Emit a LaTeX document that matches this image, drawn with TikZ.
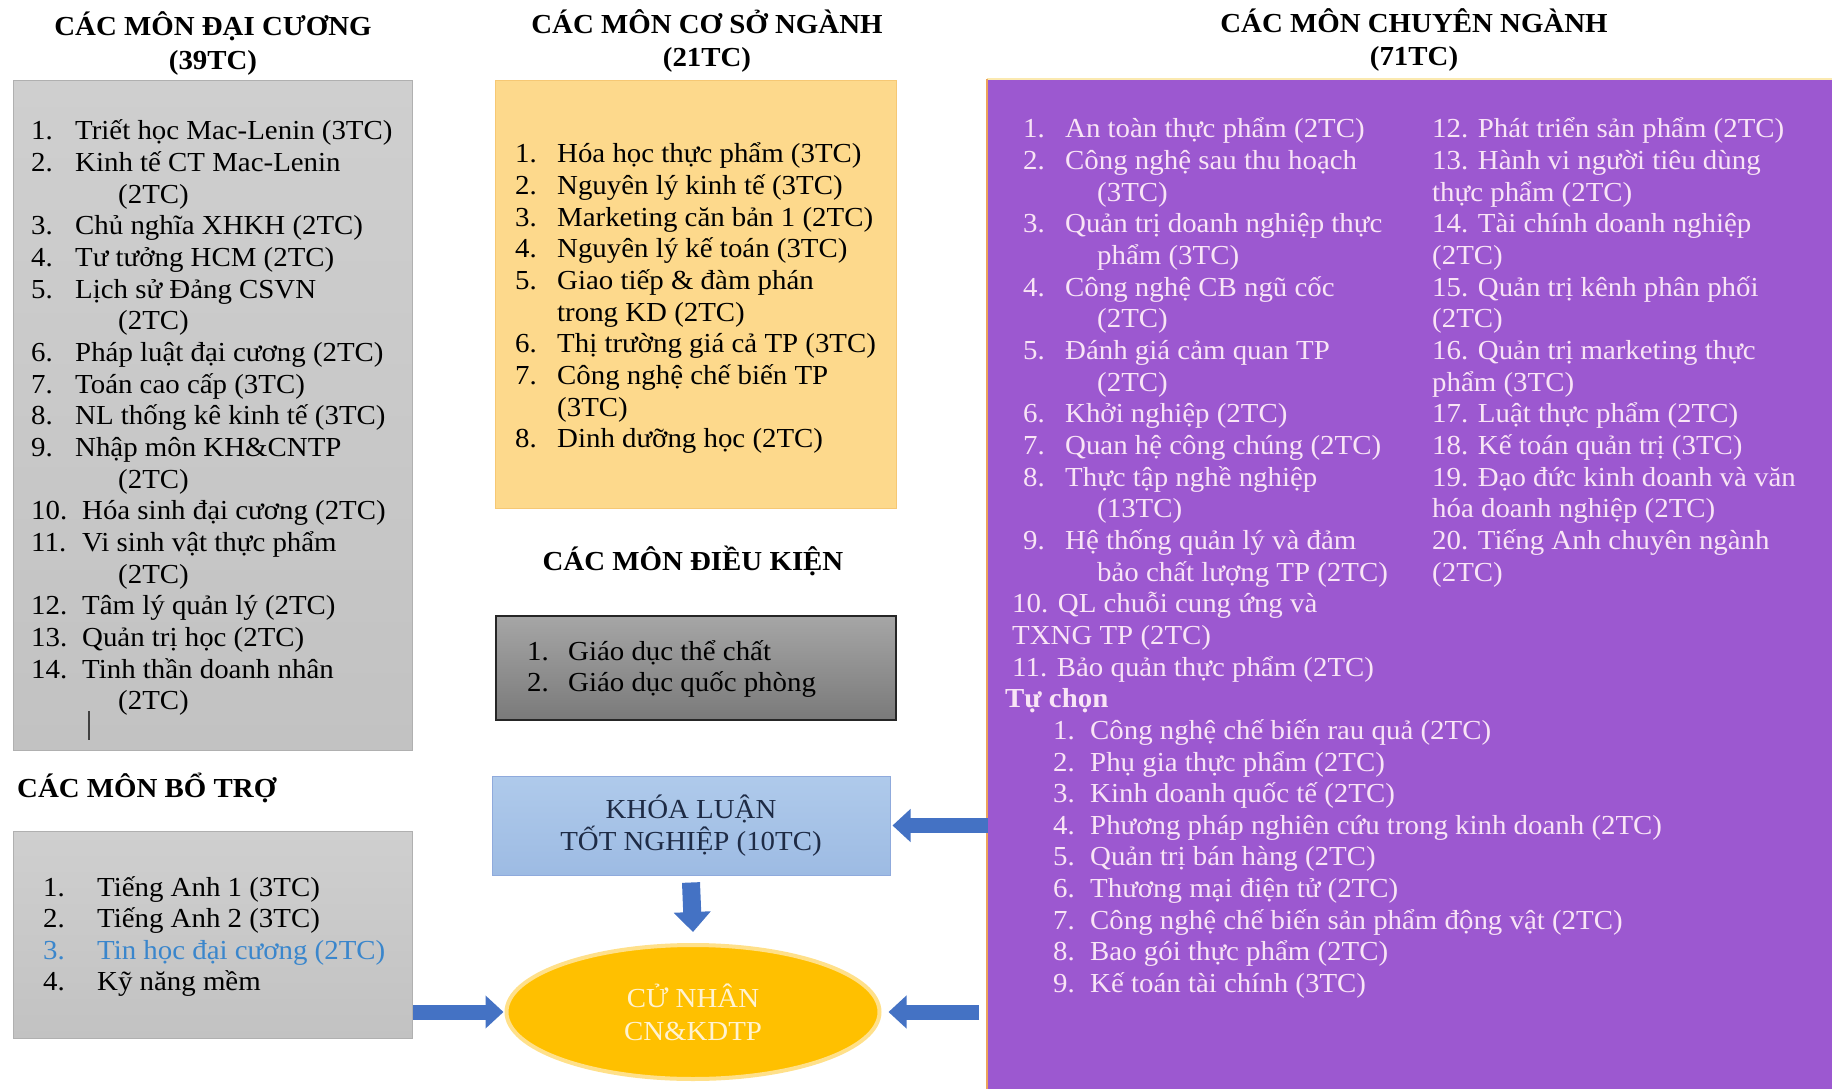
\documentclass[tikz,border=0pt]{standalone}
\usepackage{fontspec}
\setmainfont{Liberation Serif}[FakeStretch=1.05]
\usetikzlibrary{shapes.geometric,arrows.meta}
\definecolor{grayT}{HTML}{CFCFCF}
\definecolor{grayB}{HTML}{C2C2C2}
\definecolor{grayD}{HTML}{B0B0B0}
\definecolor{yelF}{HTML}{FDD98C}
\definecolor{yelD}{HTML}{F6C874}
\definecolor{dkT}{HTML}{A6A6A6}
\definecolor{dkB}{HTML}{7A7A7A}
\definecolor{bluT}{HTML}{AFCAEB}
\definecolor{bluB}{HTML}{9DBBE3}
\definecolor{bluD}{HTML}{8FAADC}
\definecolor{navy}{HTML}{1E2B45}
\definecolor{gold}{HTML}{FFC000}
\definecolor{goldE}{HTML}{FFE08A}
\definecolor{goldtxt}{HTML}{FFF3D1}
\definecolor{purp}{HTML}{9C58D0}
\definecolor{purpD}{HTML}{EDA35A}
\definecolor{purpTop}{HTML}{FBE9B0}
\definecolor{ptext}{HTML}{F9E4F6}
\definecolor{arrowblue}{HTML}{4472C4}
\definecolor{linkblue}{HTML}{3A86CC}
\newcommand\bodyfont{\fontsize{27.5}{31.65}\selectfont}
\newcommand\LS{31.65}
% numbered line: style, name, y, numx, num, textx, text
\newcommand\NL[7]{\node[#1] (#2-n) at (#4,#3) {#5}; \node[#1] (#2-t) at (#6,#3) {#7};}
% plain line: style, name, y, x, text
\newcommand\CL[5]{\node[#1] (#2) at (#4,#3) {#5};}
\begin{document}
\begin{tikzpicture}[x=1pt,y=-1pt,
  itm/.style={font=\bodyfont, anchor=base west, inner sep=0pt},
  pitm/.style={itm, text=ptext},
  ttl/.style={font=\bodyfont\bfseries, anchor=base, inner sep=0pt},
  panel/.style={rectangle, anchor=north west, inner sep=0pt},
  blockarrow/.style={draw=arrowblue, line width=15pt, -{Triangle[length=18pt,width=32pt]}},
  downarrow/.style={draw=arrowblue, line width=18pt, -{Triangle[length=20pt,width=36pt]}}]
\useasboundingbox (0,0) rectangle (1832,1089);

% ---------- panels ----------
\node[panel, top color=grayT, bottom color=grayB, draw=grayD, line width=1pt,
      minimum width=399pt, minimum height=670pt] (dc) at (13,80) {};
\node[panel, top color=grayT, bottom color=grayB, draw=grayD, line width=1pt,
      minimum width=399pt, minimum height=207pt] (bt) at (13,831) {};
\node[panel, fill=yelF, draw=yelD, line width=1pt,
      minimum width=401pt, minimum height=428pt] (csn) at (495,80) {};
\node[panel, top color=dkT, bottom color=dkB, draw=black!85, line width=1.5pt,
      minimum width=400pt, minimum height=104pt] (dk) at (495,615) {};
\node[rectangle, top color=bluT, bottom color=bluB, draw=bluD, line width=1pt,
      minimum width=398pt, minimum height=99pt, align=center, text=navy,
      font=\fontsize{27.5}{32}\selectfont] (kl) at (691,825.5) {KHÓA LUẬN\\TỐT NGHIỆP (10TC)};
\node[ellipse, fill=gold, draw=goldE, line width=4pt, inner sep=0pt,
      minimum width=373pt, minimum height=134pt, align=center, text=goldtxt,
      font=\fontsize{27.5}{33}\selectfont] (cn) at (693,1012) {CỬ NHÂN\\CN\&KDTP};
\node[panel, fill=purp, minimum width=846pt, minimum height=1012pt] (cd) at (987,79) {};
\draw[purpTop, line width=2pt] (cd.north west) -- (cd.north east);
\draw[purpD, line width=2.5pt] (cd.north west) -- (cd.south west);

% ---------- titles ----------
\node[ttl] (dc-t1) at (213,36) {CÁC MÔN ĐẠI CƯƠNG};
\node[ttl] (dc-t2) at (213,70) {(39TC)};
\node[ttl] (csn-t1) at (707,34) {CÁC MÔN CƠ SỞ NGÀNH};
\node[ttl] (csn-t2) at (707,67) {(21TC)};
\node[ttl] (cd-t1) at (1414,33) {CÁC MÔN CHUYÊN NGÀNH};
\node[ttl] (cd-t2) at (1414,66) {(71TC)};
\node[ttl] (dk-t) at (693,570) {CÁC MÔN ĐIỀU KIỆN};
\node[ttl, anchor=base west] (bt-t) at (17,797) {CÁC MÔN BỔ TRỢ};

% ---------- đại cương ----------
\NL{itm}{dc1}{140+0*\LS}{31}{1.}{75}{Triết học Mac-Lenin (3TC)}
\NL{itm}{dc2}{140+1*\LS}{31}{2.}{75}{Kinh tế CT Mac-Lenin}
\CL{itm}{dc2b}{140+2*\LS}{118}{(2TC)}
\NL{itm}{dc3}{140+3*\LS}{31}{3.}{75}{Chủ nghĩa XHKH (2TC)}
\NL{itm}{dc4}{140+4*\LS}{31}{4.}{75}{Tư tưởng HCM (2TC)}
\NL{itm}{dc5}{140+5*\LS}{31}{5.}{75}{Lịch sử Đảng CSVN}
\CL{itm}{dc5b}{140+6*\LS}{118}{(2TC)}
\NL{itm}{dc6}{140+7*\LS}{31}{6.}{75}{Pháp luật đại cương (2TC)}
\NL{itm}{dc7}{140+8*\LS}{31}{7.}{75}{Toán cao cấp (3TC)}
\NL{itm}{dc8}{140+9*\LS}{31}{8.}{75}{NL thống kê kinh tế (3TC)}
\NL{itm}{dc9}{140+10*\LS}{31}{9.}{75}{Nhập môn KH\&CNTP}
\CL{itm}{dc9b}{140+11*\LS}{118}{(2TC)}
\NL{itm}{dc10}{140+12*\LS}{31}{10.}{82}{Hóa sinh đại cương (2TC)}
\NL{itm}{dc11}{140+13*\LS}{31}{11.}{82}{Vi sinh vật thực phẩm}
\CL{itm}{dc11b}{140+14*\LS}{118}{(2TC)}
\NL{itm}{dc12}{140+15*\LS}{31}{12.}{82}{Tâm lý quản lý (2TC)}
\NL{itm}{dc13}{140+16*\LS}{31}{13.}{82}{Quản trị học (2TC)}
\NL{itm}{dc14}{140+17*\LS}{31}{14.}{82}{Tinh thần doanh nhân}
\CL{itm}{dc14b}{140+18*\LS}{118}{(2TC)}
\draw[line width=1.5pt, black!75] (89,711) -- (89,740);

% ---------- bổ trợ ----------
\NL{itm}{bt1}{896+0*\LS}{43}{1.}{97}{Tiếng Anh 1 (3TC)}
\NL{itm}{bt2}{896+1*\LS}{43}{2.}{97}{Tiếng Anh 2 (3TC)}
\NL{itm, text=linkblue}{bt3}{896+2*\LS}{43}{3.}{97}{Tin học đại cương (2TC)}
\NL{itm}{bt4}{896+3*\LS}{43}{4.}{97}{Kỹ năng mềm}

% ---------- cơ sở ngành ----------
\NL{itm}{cs1}{163+0*\LS}{515}{1.}{557}{Hóa học thực phẩm (3TC)}
\NL{itm}{cs2}{163+1*\LS}{515}{2.}{557}{Nguyên lý kinh tế (3TC)}
\NL{itm}{cs3}{163+2*\LS}{515}{3.}{557}{Marketing căn bản 1 (2TC)}
\NL{itm}{cs4}{163+3*\LS}{515}{4.}{557}{Nguyên lý kế toán (3TC)}
\NL{itm}{cs5}{163+4*\LS}{515}{5.}{557}{Giao tiếp \& đàm phán}
\CL{itm}{cs5b}{163+5*\LS}{557}{trong KD (2TC)}
\NL{itm}{cs6}{163+6*\LS}{515}{6.}{557}{Thị trường giá cả TP (3TC)}
\NL{itm}{cs7}{163+7*\LS}{515}{7.}{557}{Công nghệ chế biến TP}
\CL{itm}{cs7b}{163+8*\LS}{557}{(3TC)}
\NL{itm}{cs8}{163+9*\LS}{515}{8.}{557}{Dinh dưỡng học (2TC)}

% ---------- điều kiện ----------
\NL{itm}{dk1}{660}{527}{1.}{568}{Giáo dục thể chất}
\NL{itm}{dk2}{660+\LS}{527}{2.}{568}{Giáo dục quốc phòng}

% ---------- chuyên ngành: cột 1 ----------
\NL{pitm}{c1}{138+0*\LS}{1023}{1.}{1065}{An toàn thực phẩm (2TC)}
\NL{pitm}{c2}{138+1*\LS}{1023}{2.}{1065}{Công nghệ sau thu hoạch}
\CL{pitm}{c2b}{138+2*\LS}{1097}{(3TC)}
\NL{pitm}{c3}{138+3*\LS}{1023}{3.}{1065}{Quản trị doanh nghiệp thực}
\CL{pitm}{c3b}{138+4*\LS}{1097}{phẩm (3TC)}
\NL{pitm}{c4}{138+5*\LS}{1023}{4.}{1065}{Công nghệ CB ngũ cốc}
\CL{pitm}{c4b}{138+6*\LS}{1097}{(2TC)}
\NL{pitm}{c5}{138+7*\LS}{1023}{5.}{1065}{Đánh giá cảm quan TP}
\CL{pitm}{c5b}{138+8*\LS}{1097}{(2TC)}
\NL{pitm}{c6}{138+9*\LS}{1023}{6.}{1065}{Khởi nghiệp (2TC)}
\NL{pitm}{c7}{138+10*\LS}{1023}{7.}{1065}{Quan hệ công chúng (2TC)}
\NL{pitm}{c8}{138+11*\LS}{1023}{8.}{1065}{Thực tập nghề nghiệp}
\CL{pitm}{c8b}{138+12*\LS}{1097}{(13TC)}
\NL{pitm}{c9}{138+13*\LS}{1023}{9.}{1065}{Hệ thống quản lý và đảm}
\CL{pitm}{c9b}{138+14*\LS}{1097}{bảo chất lượng TP (2TC)}
\CL{pitm}{c10}{138+15*\LS}{1012}{10. QL chuỗi cung ứng và}
\CL{pitm}{c10b}{138+16*\LS}{1012}{TXNG TP (2TC)}
\CL{pitm}{c11}{138+17*\LS}{1012}{11. Bảo quản thực phẩm (2TC)}
\CL{pitm, font=\bodyfont\bfseries}{tc}{138+18*\LS}{1005}{Tự chọn}
\NL{pitm}{t1}{138+19*\LS}{1053}{1.}{1090}{Công nghệ chế biến rau quả (2TC)}
\NL{pitm}{t2}{138+20*\LS}{1053}{2.}{1090}{Phụ gia thực phẩm (2TC)}
\NL{pitm}{t3}{138+21*\LS}{1053}{3.}{1090}{Kinh doanh quốc tế (2TC)}
\NL{pitm}{t4}{138+22*\LS}{1053}{4.}{1090}{Phương pháp nghiên cứu trong kinh doanh (2TC)}
\NL{pitm}{t5}{138+23*\LS}{1053}{5.}{1090}{Quản trị bán hàng (2TC)}
\NL{pitm}{t6}{138+24*\LS}{1053}{6.}{1090}{Thương mại điện tử (2TC)}
\NL{pitm}{t7}{138+25*\LS}{1053}{7.}{1090}{Công nghệ chế biến sản phẩm động vật (2TC)}
\NL{pitm}{t8}{138+26*\LS}{1053}{8.}{1090}{Bao gói thực phẩm (2TC)}
\NL{pitm}{t9}{138+27*\LS}{1053}{9.}{1090}{Kế toán tài chính (3TC)}

% ---------- chuyên ngành: cột 2 ----------
\CL{pitm}{c12}{138+0*\LS}{1432}{12. Phát triển sản phẩm (2TC)}
\CL{pitm}{c13}{138+1*\LS}{1432}{13. Hành vi người tiêu dùng}
\CL{pitm}{c13b}{138+2*\LS}{1432}{thực phẩm (2TC)}
\CL{pitm}{c14}{138+3*\LS}{1432}{14. Tài chính doanh nghiệp}
\CL{pitm}{c14b}{138+4*\LS}{1432}{(2TC)}
\CL{pitm}{c15}{138+5*\LS}{1432}{15. Quản trị kênh phân phối}
\CL{pitm}{c15b}{138+6*\LS}{1432}{(2TC)}
\CL{pitm}{c16}{138+7*\LS}{1432}{16. Quản trị marketing thực}
\CL{pitm}{c16b}{138+8*\LS}{1432}{phẩm (3TC)}
\CL{pitm}{c17}{138+9*\LS}{1432}{17. Luật thực phẩm (2TC)}
\CL{pitm}{c18}{138+10*\LS}{1432}{18. Kế toán quản trị (3TC)}
\CL{pitm}{c19}{138+11*\LS}{1432}{19. Đạo đức kinh doanh và văn}
\CL{pitm}{c19b}{138+12*\LS}{1432}{hóa doanh nghiệp (2TC)}
\CL{pitm}{c20}{138+13*\LS}{1432}{20. Tiếng Anh chuyên ngành}
\CL{pitm}{c20b}{138+14*\LS}{1432}{(2TC)}

% ---------- arrows ----------
\draw[blockarrow] (bt.east |- cn.west) -- ([xshift=-1pt]cn.west);
\draw[blockarrow] ([xshift=-8pt]cd.west |- cn.east) -- ([xshift=7pt]cn.east);
\draw[blockarrow] ([xshift=1pt]cd.west |- kl.east) -- ([xshift=2pt]kl.east);
\draw[downarrow] ([yshift=-7pt]kl.south) -- ([yshift=11pt]cn.north);
\end{tikzpicture}
\end{document}
